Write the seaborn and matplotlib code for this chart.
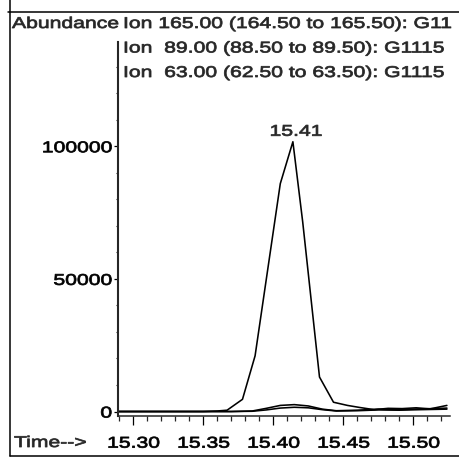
import numpy as np
import pandas as pd
import matplotlib
matplotlib.use("Agg")
import matplotlib.pyplot as plt
import seaborn as sns
from matplotlib.lines import Line2D
from matplotlib.ticker import MultipleLocator
from matplotlib.patheffects import AbstractPathEffect
from matplotlib.transforms import Affine2D

# chromatogram traces (time in min, abundance)
time_165 = [15.289, 15.300, 15.310, 15.320, 15.330, 15.340, 15.350, 15.360, 15.367,
            15.378, 15.387, 15.405, 15.414, 15.421, 15.433, 15.443, 15.453, 15.462,
            15.472, 15.482, 15.492, 15.502, 15.512, 15.524]
abund_165 = [0, 0, 0, 0, 0, 0, 0, 200, 500,
             4600, 21000, 85900, 101700, 71500, 13000, 3500, 2300, 1500,
             700, 1200, 1100, 1400, 1000, 2300]

time_small = [15.289, 15.330, 15.370, 15.385, 15.395, 15.405, 15.415, 15.425,
              15.435, 15.445, 15.460, 15.475, 15.490, 15.505, 15.515, 15.524]
abund_89 = [0, 0, 0, 200, 1200, 2300, 2600, 2100,
            900, 300, 500, 900, 700, 1000, 1100, 1300]
abund_63 = [0, 0, 0, 100, 600, 1300, 1600, 1400,
            700, 200, 300, 600, 500, 700, 800, 900]

ion_labels = ["Ion 165.00 (164.50 to 165.50): G11",
              "Ion  89.00 (88.50 to 89.50): G1115",
              "Ion  63.00 (62.50 to 63.50): G1115"]
x_ticks = [15.30, 15.35, 15.40, 15.45, 15.50]
y_ticks = [0, 50000, 100000]
peak_label = "15.41"

FS = 11.2
SX = 1.36  # the scan is stretched sideways, so is the text


class Stretch(AbstractPathEffect):
    """Widen text sideways and give it a slightly heavier stroke, like the scan."""
    def __init__(self, sx=SX, anchor="left", stroke=0.55):
        super().__init__()
        self.sx = sx
        self.anchor = anchor
        self.stroke = stroke

    def draw_path(self, renderer, gc, tpath, affine, rgbFace=None):
        xs = tpath.vertices[:, 0]
        a = 0.0
        if len(xs):
            if self.anchor == "center":
                a = (xs.min() + xs.max()) / 2
            elif self.anchor == "right":
                a = xs.max()
        st = Affine2D().translate(-a, 0).scale(self.sx, 1).translate(a, 0)
        gc0 = renderer.new_gc()
        gc0.copy_properties(gc)
        gc0.set_linewidth(self.stroke)
        gc0.set_foreground(rgbFace if rgbFace is not None else 'black')
        renderer.draw_path(gc0, tpath, st + affine, rgbFace)
        gc0.restore()


sns.set_style("ticks")
plt.rcParams['font.family'] = ['Liberation Sans', 'DejaVu Sans']
plt.rcParams['font.size'] = FS

df = pd.concat([
    pd.DataFrame({'time': time_small, 'abundance': abund_63, 'ion': '63'}),
    pd.DataFrame({'time': time_small, 'abundance': abund_89, 'ion': '89'}),
    pd.DataFrame({'time': time_165, 'abundance': abund_165, 'ion': '165'}),
])

fig = plt.figure(figsize=(4.59, 4.60), dpi=100)
W, H = 459, 460
ax = fig.add_axes([118 / W, 1 - 416.5 / H, (450 - 118) / W, (416.5 - 43) / H])

sns.lineplot(data=df, x='time', y='abundance', hue='ion',
             palette=['black'] * 3, legend=False, lw=1.15, ax=ax)

ax.set_xlim(15.2891, 15.5262)
ax.set_ylim(-1500, 139300)
ax.set_xlabel("")
ax.set_ylabel("")
sns.despine(ax=ax)
ax.spines['left'].set_linewidth(1.5)
ax.spines['bottom'].set_linewidth(1.1)

ax.set_xticks(x_ticks)
ax.set_xticklabels([f"{t:.2f}" for t in x_ticks])
ax.set_yticks(y_ticks)
ax.set_yticklabels([str(v) for v in y_ticks])
ax.xaxis.set_minor_locator(MultipleLocator(0.01))
ax.yaxis.set_minor_locator(MultipleLocator(10000))
ax.tick_params(axis='x', which='major', length=6.5, width=0.9, pad=8.0,
               labelsize=FS, colors='black')
ax.tick_params(axis='x', which='minor', length=3.6, width=0.9)
ax.tick_params(axis='y', which='major', length=2.9, width=0.9, pad=1.5,
               labelsize=FS, colors='black')
ax.tick_params(axis='y', which='minor', length=1.8, width=0.8)
for lab in ax.get_xticklabels():
    lab.set_path_effects([Stretch(anchor="center")])
for lab in ax.get_yticklabels():
    lab.set_path_effects([Stretch(anchor="right")])

# peak apex label
ipk = int(np.argmax(abund_165))
ax.annotate(peak_label, xy=(time_165[ipk], abund_165[ipk]), xytext=(2, 4.3),
            textcoords='offset points', ha='center', va='baseline',
            fontsize=FS, path_effects=[Stretch(anchor="center")])

# header text
fig.text(12 / W, 1 - 29 / H, "Abundance", ha='left', va='baseline',
         fontsize=FS, path_effects=[Stretch()])
for i, lab in enumerate(ion_labels):
    fig.text(123 / W, 1 - (29 + 24.5 * i) / H, lab, ha='left', va='baseline',
             fontsize=FS, path_effects=[Stretch()])
fig.text(14 / W, 1 - 448 / H, "Time-->", ha='left', va='baseline',
         fontsize=FS, path_effects=[Stretch()])

# page frame of the printout
frame = dict(color='black', lw=1.1, transform=fig.transFigure)
fig.add_artist(Line2D([8 / W, 1], [1 - 13 / H, 1 - 13 / H], **frame))
fig.add_artist(Line2D([10 / W, 10 / W], [1, 1 - 457 / H], **frame))
fig.add_artist(Line2D([10 / W, 1], [1 - 457 / H, 1 - 457 / H], **frame))

fig.savefig("out.png", dpi=100, facecolor='white')
